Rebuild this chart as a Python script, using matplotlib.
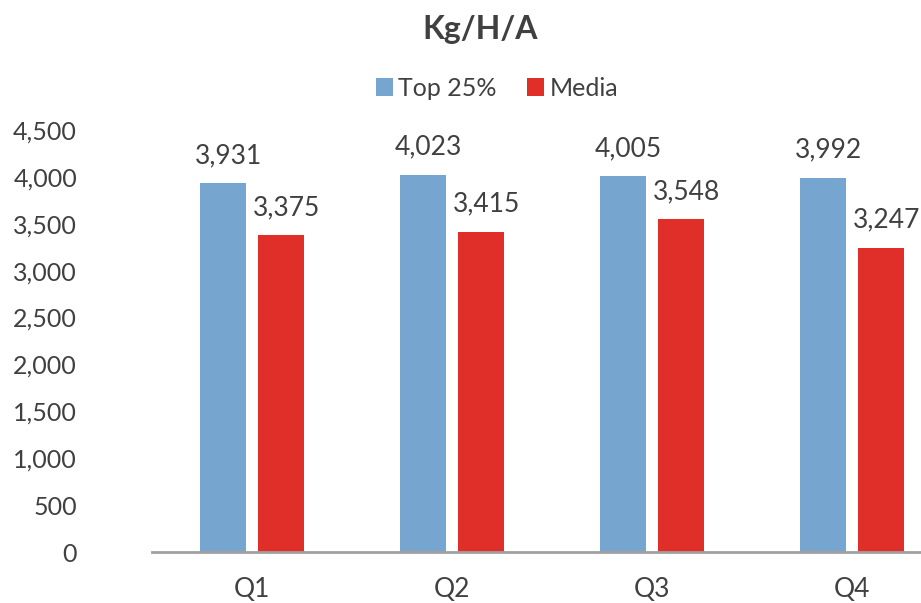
import numpy as np
import matplotlib.pyplot as plt
from matplotlib.ticker import FuncFormatter

plt.rcParams['font.family'] = ['Lato', 'DejaVu Sans']

quarters = ['Q1', 'Q2', 'Q3', 'Q4']
top25 = [3931, 4023, 4005, 3992]
media = [3375, 3415, 3548, 3247]

blue = '#76A5D0'
red = '#E02E28'
txt = '#404040'

fig = plt.figure(figsize=(9.21, 6.03), dpi=100)
# the original chart is cropped on the right, so the axes run past the figure edge
ax = fig.add_axes([152 / 921, 51 / 603, 800 / 921, 422 / 603])

x = np.arange(len(quarters))
w = 0.23
b1 = ax.bar(x - 0.145, top25, w, color=blue, label='Top 25%')
b2 = ax.bar(x + 0.145, media, w, color=red, label='Media')

for bars in (b1, b2):
    for r in bars:
        ax.annotate(f'{r.get_height():,.0f}', (r.get_x() + r.get_width() / 2, r.get_height()),
                    xytext=(4, 11), textcoords='offset points', ha='center', va='bottom',
                    fontsize=19, color=txt)

ax.set_xlim(-0.5, 3.5)
ax.set_ylim(0, 4500)
ax.set_yticks(range(0, 4501, 500))
ax.yaxis.set_major_formatter(FuncFormatter(lambda v, p: f'{v:,.0f}'))
ax.set_xticks(x)
ax.set_xticklabels(quarters)
ax.tick_params(axis='y', length=0, pad=54, labelsize=18, labelcolor=txt)
ax.tick_params(axis='x', length=0, pad=18, labelsize=19, labelcolor=txt)

for s in ('top', 'right', 'left'):
    ax.spines[s].set_visible(False)
ax.spines['bottom'].set_color('#A0A0A0')
ax.spines['bottom'].set_linewidth(2)

fig.text(480 / 921, 1 - 30 / 603, 'Kg/H/A', ha='center', va='center',
         fontsize=23, fontweight='bold', color=txt)

fig.legend(handles=[b1, b2], loc='center', bbox_to_anchor=(497 / 921, 1 - 88 / 603),
           ncol=2, frameon=False, fontsize=18, labelcolor=txt,
           handlelength=0.7, handleheight=0.7, handletextpad=0.2, columnspacing=1.2)

plt.savefig('out.png', dpi=100)
